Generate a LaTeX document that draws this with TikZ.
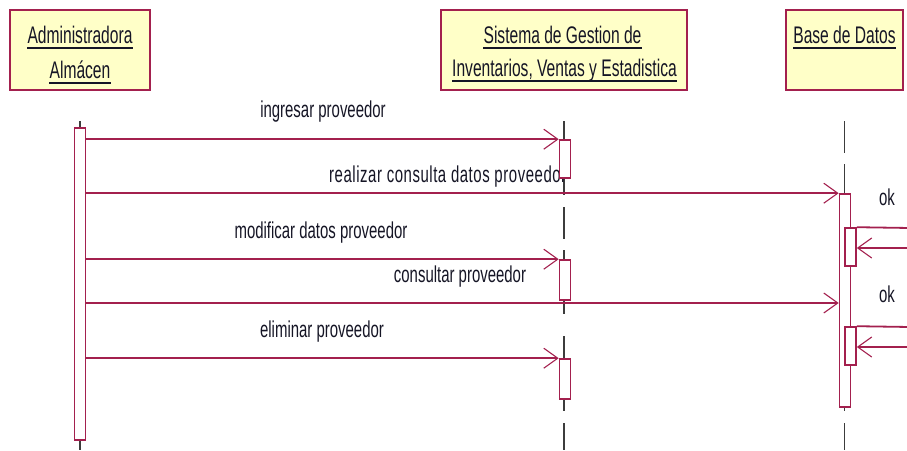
\documentclass[tikz,border=0pt]{standalone}
\usepackage{fontspec}
\setmainfont{Liberation Sans}[FakeStretch=0.65]
\usetikzlibrary{arrows.meta}
\definecolor{umlred}{HTML}{A3204E}
\definecolor{umlfill}{HTML}{FFFFC8}
\definecolor{lifegray}{HTML}{3C3C3C}
\definecolor{txt}{HTML}{151525}
\begin{document}
\begin{tikzpicture}[x=1pt,y=-1pt,
  head/.style={draw=umlred, line width=2pt, fill=umlfill, rectangle, inner sep=0pt, minimum height=80pt},
  headtxt/.style={anchor=base, inner sep=0pt, text=txt, font=\fontsize{24}{28}\selectfont},
  uline/.style={draw=txt, line width=1.4pt},
  lbl/.style={anchor=base, inner sep=0pt, text=txt, font=\fontsize{23}{27}\selectfont},
  bar/.style={draw=umlred, fill=white, line width=1.6pt, rectangle, inner sep=0pt, minimum width=11pt},
  life/.style={draw=lifegray, line width=1.4pt},
  msg/.style={draw=umlred, line width=1.8pt, -{Straight Barb[length=14pt,width=20pt,line width=1.1pt]}},
  plainmsg/.style={draw=umlred, line width=1.8pt}]
\useasboundingbox (0,0) rectangle (907,450);
\coordinate (bottom) at (0,450);
\coordinate (y4) at (0,303);
\coordinate (r1) at (910,228);
\coordinate (r2) at (910,248);
\coordinate (r3) at (910,327);
\coordinate (r4) at (910,347);

% heads
\node[head, minimum width=140pt] (adm) at (80,50) {};
\node[head, minimum width=246pt] (sys) at (564,50) {};
\node[head, minimum width=117pt] (db) at (844.5,50) {};

% lifelines
\draw[life] ([yshift=-30pt]adm.south) -- (adm.south |- bottom);
\draw[life, dash pattern=on 74pt off 12pt on 32pt off 11pt on 64pt off 22pt on 75pt off 12pt on 28pt]
  ([yshift=-30pt]sys.south) -- (sys.south |- bottom);
\draw[life, dash pattern=on 32pt off 11pt on 247pt off 12pt on 28pt]
  ([yshift=-30pt]db.south) -- (db.south |- bottom);

% activation bars (positions)
\path
  node[bar, minimum height=312pt] (ab) at (80,284) {}
  node[bar, minimum height=38pt] (sb1) at (565,159) {}
  node[bar, minimum height=40pt] (sb2) at (565,280) {}
  node[bar, minimum height=40pt] (sb3) at (565,379) {}
  node[bar, minimum height=213pt] (bb) at (845,300.5) {}
  node[bar, minimum height=38pt] (db1) at (850.5,247) {}
  node[bar, minimum height=38pt] (db2) at (850.5,346) {};

% messages
\draw[msg] (ab.east |- sb1.north) -- (sb1.north west);
\draw[msg] (ab.east |- bb.north) -- (bb.north west);
\draw[msg] (ab.east |- sb2.north) -- (sb2.north west);
\draw[msg] (ab.east |- y4) -- (bb.west |- y4);
\draw[msg] (ab.east |- sb3.north) -- (sb3.north west);
\draw[plainmsg] (db1.north east) -- (r1);
\draw[msg] (r2) -- (db1.east |- r2);
\draw[plainmsg] (db2.north east) -- (r3);
\draw[msg] (r4) -- (db2.east |- r4);

% labels
\node[lbl] (l1) at (323,117) {ingresar proveedor};
\node[lbl, anchor=base west] (l2) at (329,182) {\addfontfeature{LetterSpace=2.4}realizar consulta datos proveedor};
\node[lbl] (l3) at (321,238) {modificar datos proveedor};
\node[lbl] (l4) at (460,282) {consultar proveedor};
\node[lbl] (l5) at (322,337) {eliminar proveedor};
\node[lbl] (ok1) at (887,205) {ok};
\node[lbl] (ok2) at (887,302) {ok};

% bars drawn over
\path
  node[bar, minimum height=312pt] at (ab) {}
  node[bar, minimum height=38pt] at (sb1) {}
  node[bar, minimum height=40pt] at (sb2) {}
  node[bar, minimum height=40pt] at (sb3) {}
  node[bar, minimum height=213pt] at (bb) {}
  node[bar, minimum height=38pt] at (db1) {}
  node[bar, minimum height=38pt] at (db2) {};

% head texts
\node[headtxt] (t1) at (80,43) {Administradora};
\node[headtxt] (t2) at (80,78) {Almácen};
\node[headtxt] (t3) at (562.5,43) {Sistema de Gestion de};
\node[headtxt] (t4) at (564.5,76) {Inventarios, Ventas y Estadistica};
\node[headtxt] (t5) at (844.5,43) {Base de Datos};
\foreach \t in {t1,t2,t3,t4,t5}
  \draw[uline] ([yshift=-5pt]\t.base west) -- ([yshift=-5pt]\t.base east);
\end{tikzpicture}
\end{document}
